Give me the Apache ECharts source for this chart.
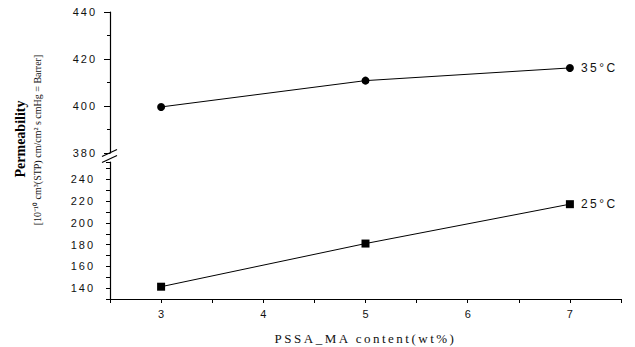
<!DOCTYPE html>
<html><head><meta charset="utf-8">
<script src="https://cdn.jsdelivr.net/npm/echarts@6/dist/echarts.min.js"></script>
<style>html,body{margin:0;padding:0;background:#fff}#c{width:635px;height:347px}</style>
</head><body><div id="c"></div>
<script>
const contents = [3, 5, 7];
const perm35 = [399.6, 410.8, 416.2];
const perm25 = [141.3, 181.0, 217.2];
const upperTicks = [380, 400, 420, 440];
const lowerTicks = [140, 160, 180, 200, 220, 240];
const xTicks = [3, 4, 5, 6, 7];
const xTitle = 'PSSA_MA content(wt%)';
const yTitle = 'Permeability';
const yUnit = '[10⁻¹⁰ cm³(STP) cm/cm² s cmHg = Barrer]';

const chart = echarts.init(document.getElementById('c'), null, {renderer: 'svg'});
const axisFont = {color: '#111', fontFamily: 'Liberation Sans, Arial', fontSize: 11};
const lineStyle = {color: '#000', width: 1.2};
function pairs(xs, ys){ return xs.map((x,i)=>[x, ys[i]]); }

const option = {
  animation: false,
  backgroundColor: '#fff',
  grid: [
    {left: 110, right: 14, top: 12, height: 141},
    {left: 110, right: 14, top: 162, bottom: 48}
  ],
  xAxis: [
    {gridIndex: 0, type: 'value', min: 2.5, max: 7.5, interval: 0.5, show: false},
    {gridIndex: 1, type: 'value', min: 2.5, max: 7.5, interval: 0.5,
     axisLine: {lineStyle: lineStyle, onZero: false},
     axisTick: {show: true, length: 4, lineStyle: {color: '#000'}},
     splitLine: {show: false},
     axisLabel: Object.assign({margin: 9, formatter: v => xTicks.indexOf(v) >= 0 ? String(v) : ''}, axisFont),
     name: xTitle, nameLocation: 'middle', nameGap: 33,
     nameTextStyle: {fontFamily: 'Liberation Serif, Times New Roman', fontSize: 13, color: '#111'}}
  ],
  yAxis: [
    {gridIndex: 0, type: 'value', min: 380, max: 440, interval: 20,
     axisLine: {show: true, lineStyle: lineStyle},
     axisTick: {show: true, length: 6, lineStyle: {color: '#000'}},
     minorTick: {show: true, splitNumber: 2, length: 3, lineStyle: {color: '#000'}},
     splitLine: {show: false},
     axisLabel: Object.assign({margin: 13, formatter: v => upperTicks.indexOf(v) >= 0 ? String(v) : ''}, axisFont)},
    {gridIndex: 1, type: 'value', min: 130, max: 256, interval: 10,
     axisLine: {show: true, lineStyle: lineStyle},
     axisTick: {show: true, length: 4, lineStyle: {color: '#000'}},
     splitLine: {show: false},
     axisLabel: Object.assign({margin: 15, formatter: v => lowerTicks.indexOf(v) >= 0 ? String(v) : ''}, axisFont)}
  ],
  series: [
    {name: '35°C', type: 'line', xAxisIndex: 0, yAxisIndex: 0, data: pairs(contents, perm35),
     symbol: 'circle', symbolSize: 8, itemStyle: {color: '#000'}, lineStyle: {color: '#000', width: 1},
     endLabel: {show: true, formatter: '{a}', distance: 11, fontFamily: 'Liberation Sans, Arial', fontSize: 12, color: '#111'}},
    {name: '25°C', type: 'line', xAxisIndex: 1, yAxisIndex: 1, data: pairs(contents, perm25),
     symbol: 'rect', symbolSize: 8, itemStyle: {color: '#000'}, lineStyle: {color: '#000', width: 1},
     endLabel: {show: true, formatter: '{a}', distance: 11, fontFamily: 'Liberation Sans, Arial', fontSize: 12, color: '#111'}}
  ]
};
chart.setOption(option);

// axis break marks and y-axis titles
const pTop = chart.convertToPixel({gridIndex: 0}, [2.5, 380]);
const pBot = chart.convertToPixel({gridIndex: 1}, [2.5, 256]);
const mid = (pTop[1] + pBot[1]) / 2;
const ax = pTop[0];
chart.setOption({graphic: [
  {type: 'line', shape: {x1: ax - 8, y1: mid - 1, x2: ax + 7, y2: mid - 8}, style: {stroke: '#000', lineWidth: 1.2}},
  {type: 'line', shape: {x1: ax - 8, y1: mid + 5, x2: ax + 7, y2: mid - 2}, style: {stroke: '#000', lineWidth: 1.2}},
  {type: 'text', x: 20, y: 139, rotation: Math.PI / 2,
   style: {text: yTitle, font: 'bold 14px "Liberation Serif", "Times New Roman"', fill: '#000', align: 'center', verticalAlign: 'middle'}},
  {type: 'text', x: 37, y: 140, rotation: Math.PI / 2,
   style: {text: yUnit, font: '10px "Liberation Serif", "Times New Roman"', fill: '#111', align: 'center', verticalAlign: 'middle'}}
]});

// letter spacing like the scanned original
function spaceText(){
  document.querySelectorAll('#c svg text').forEach(t => {
    const s = t.textContent;
    let ls = null;
    if (s === xTitle) ls = '2.5px';
    else if (/°C$/.test(s)) ls = '2.5px';
    else if (/^\d{3}$/.test(s)) ls = '2px';
    if (ls) t.setAttribute('letter-spacing', ls);
  });
}
spaceText();
chart.on('finished', spaceText);
setTimeout(spaceText, 0);
</script></body></html>
